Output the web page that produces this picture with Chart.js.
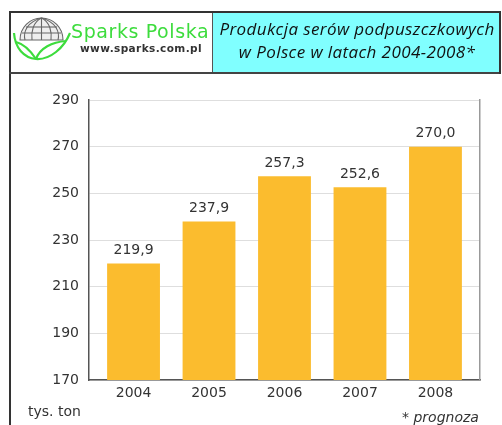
<!DOCTYPE html>
<html><head><meta charset="utf-8">
<script src="https://cdn.jsdelivr.net/npm/chart.js@4"></script>
<style>
html,body{margin:0;padding:0;background:#fff;}
#wrap{position:relative;width:502px;height:425px;overflow:hidden;background:#fff;}
#c{position:absolute;left:0;top:0;}
#frameLeft{position:absolute;left:9px;top:11px;width:2px;height:420px;background:#333;}
#frameTop{position:absolute;left:9px;top:11px;width:492px;height:2px;background:#333;}
#frameMid{position:absolute;left:9px;top:72px;width:492px;height:2px;background:#444;}
#frameRight{position:absolute;left:499px;top:11px;width:2px;height:63px;background:#333;}
#cyan{position:absolute;left:212px;top:13px;width:287px;height:59px;background:#80FFFF;border-left:1px solid #555;}
#title{position:absolute;left:212px;top:17px;width:290px;text-align:center;font-family:"Open Sans",sans-serif;font-style:italic;font-size:17px;line-height:23px;color:#111;letter-spacing:0.4px;white-space:nowrap;}
#brand{position:absolute;left:71px;top:20px;font-family:"DejaVu Sans",sans-serif;font-size:19px;color:#3ddc3d;letter-spacing:0.6px;}
#url{position:absolute;left:80px;top:42px;font-family:"DejaVu Sans",sans-serif;font-size:10.5px;font-weight:bold;color:#333;letter-spacing:0.4px;}
#logo{position:absolute;left:0;top:0;}
#unit{position:absolute;left:28px;top:403px;font-family:"DejaVu Sans",sans-serif;font-size:14px;color:#333;}
#note{position:absolute;left:402px;top:409px;font-family:"DejaVu Sans",sans-serif;font-style:italic;font-size:14px;color:#333;}
</style></head>
<body><div id="wrap">
<canvas id="c" width="502" height="425"></canvas>
<div id="cyan"></div>
<div id="frameTop"></div><div id="frameLeft"></div><div id="frameMid"></div><div id="frameRight"></div>
<svg id="logo" width="80" height="70" viewBox="0 0 80 70">
 <g fill="none" stroke="#666" stroke-width="1.1">
  <path d="M20 40 A21.5 22 0 0 1 63 40 Z" fill="#eee"/>
  <path d="M41.5 18 L41.5 40"/>
  <path d="M41.5 18 C33 22 31 32 32 40"/>
  <path d="M41.5 18 C50 22 52 32 51 40"/>
  <path d="M41.5 18 C27 22 23 32 25 40"/>
  <path d="M41.5 18 C56 22 60 32 58 40"/>
  <path d="M26 27 L57 27"/>
  <path d="M22 33 L61 33"/>
 </g>
 <g fill="none" stroke="#3ddc3d" stroke-width="2.2">
  <path d="M14 33 C15 48 24 58 36 59 C50 60 64 48 70 33"/>
  <path d="M36 59 C40 48 52 42 66 41"/>
  <path d="M36 59 C30 50 24 44 16 42"/>
 </g>
</svg>
<div id="brand">Sparks Polska</div>
<div id="url">www.sparks.com.pl</div>
<div id="title">Produkcja serów podpuszczkowych<br>w Polsce w latach 2004-2008*</div>
<div id="unit">tys. ton</div>
<div id="note">* prognoza</div>
</div>
<script>
const categories = ["2004", "2005", "2006", "2007", "2008"];
const production = [219.9, 237.9, 257.3, 252.6, 270.0];
const yMin = 170, yMax = 290, yStep = 20;

const points = production.map((v, i) => ({ x: i, y: v }));

const valueLabels = {
  id: 'valueLabels',
  afterDatasetsDraw(chart) {
    const ctx = chart.ctx;
    const meta = chart.getDatasetMeta(0);
    ctx.save();
    ctx.font = '14px "DejaVu Sans"';
    ctx.fillStyle = '#333';
    ctx.textAlign = 'center';
    ctx.textBaseline = 'bottom';
    meta.data.forEach((bar, i) => {
      const txt = production[i].toFixed(1).replace('.', ',');
      ctx.fillText(txt, bar.x, bar.y - 6);
    });
    ctx.restore();
  }
};

new Chart(document.getElementById('c'), {
  type: 'bar',
  data: {
    datasets: [{
      data: points,
      backgroundColor: '#FBBC2E',
      borderWidth: 0,
      barPercentage: 0.70,
      categoryPercentage: 1.0
    }]
  },
  options: {
    responsive: false,
    animation: false,
    layout: { padding: { left: 0, top: 100, right: 22, bottom: 0 } },
    plugins: { legend: { display: false }, tooltip: { enabled: false } },
    scales: {
      x: {
        type: 'linear',
        min: -0.59, max: 4.59,
        offset: false,
        grid: { display: false, drawTicks: false },
        border: { display: true, color: '#555', width: 1.5 },
        afterBuildTicks(s) { s.ticks = categories.map((c, i) => ({ value: i })); },
        ticks: {
          color: '#333', font: { family: 'DejaVu Sans', size: 14 }, padding: 5,
          callback: (v) => categories[v]
        },
        afterFit(s) { s.height = 45; }
      },
      y: {
        min: yMin, max: yMax,
        grid: { color: '#dedede', lineWidth: 1, drawTicks: false },
        border: { display: true, color: '#555', width: 1.5 },
        ticks: { stepSize: yStep, color: '#333', font: { family: 'DejaVu Sans', size: 14 }, padding: 10 },
        afterFit(s) { s.width = 89; }
      },
      y2: {
        position: 'right',
        min: yMin, max: yMax,
        grid: { drawOnChartArea: false, drawTicks: false },
        border: { display: true, color: '#999', width: 1.5 },
        ticks: { display: false },
        afterFit(s) { s.width = 0; }
      }
    }
  },
  plugins: [valueLabels]
});
</script>
</body></html>
